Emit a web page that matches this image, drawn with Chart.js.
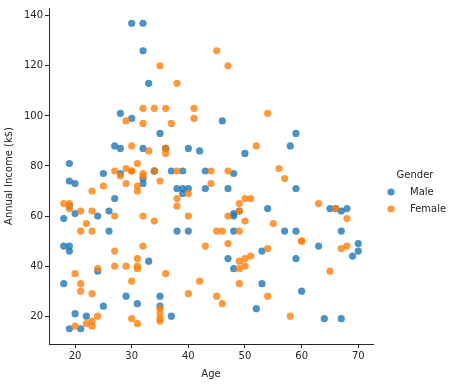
<!DOCTYPE html>
<html>
<head>
<meta charset="utf-8">
<script src="https://cdn.jsdelivr.net/npm/chart.js@4/dist/chart.umd.min.js"></script>
<style>
  html, body { margin: 0; padding: 0; background: #fff; }
  #wrap { width: 453px; height: 390px; }
</style>
</head>
<body>
<div id="wrap"><canvas id="scatterChart" width="453" height="390"></canvas></div>
<script>
// Age vs Annual Income, split by gender
const maleAge = [19,21,64,67,37,22,20,52,35,25,31,29,35,60,53,18,24,48,33,59,47,69,53,70,19,63,18,19,70,59,26,40,57,38,67,48,18,48,24,48,20,67,26,49,54,68,66,65,19,27,39,43,40,59,38,47,39,20,32,19,32,25,28,48,34,43,39,37,34,19,50,42,32,40,28,36,36,58,27,59,35,46,30,28,33,32,32,30];
const maleIncome = [15,15,19,19,20,20,21,23,24,24,25,28,28,30,33,33,38,39,42,43,43,44,46,46,46,48,48,48,49,54,54,54,54,54,54,54,59,60,60,61,61,62,62,62,63,63,63,63,64,67,69,71,71,71,71,71,71,73,73,74,75,77,77,77,78,78,78,78,78,81,85,86,87,87,87,87,87,88,88,93,93,98,99,101,113,126,137,137];

const femaleAge = [20,23,31,22,35,23,30,35,58,24,35,35,46,54,45,40,23,21,49,21,42,30,36,20,65,31,49,24,50,27,29,31,49,31,50,51,27,67,54,43,68,32,47,60,60,45,23,49,46,21,55,22,34,50,68,40,32,47,27,23,49,21,66,19,38,18,19,63,49,51,50,38,40,23,31,25,31,29,44,35,57,28,32,32,34,44,38,47,27,30,30,56,29,31,36,33,36,52,30,37,32,29,41,54,41,36,34,32,38,47,35,45];
const femaleIncome = [16,16,17,17,18,18,19,19,20,20,21,23,25,28,28,29,29,30,33,33,34,34,37,37,38,39,39,39,40,40,40,40,42,43,43,44,46,47,47,48,48,48,49,50,50,54,54,54,54,54,57,57,58,58,59,60,60,60,60,62,62,62,63,63,64,65,65,65,65,67,67,67,69,70,70,72,72,73,73,74,75,76,76,77,78,78,78,78,78,78,78,79,79,81,85,86,87,88,88,97,97,98,99,101,103,103,103,103,113,120,120,126];

const xTicks = [20, 30, 40, 50, 60, 70];
const yTicks = [20, 40, 60, 80, 100, 120, 140];

const legendItems = ['Male', 'Female'];
const legendColors = ['rgba(31,119,180,0.8)', 'rgba(255,127,14,0.8)'];

const FONT = "'DejaVu Sans', sans-serif";
const INK = '#262626';

const toPoints = (xs, ys) => xs.map((x, i) => ({ x: x, y: ys[i] }));

// seaborn-like legend outside the axes, on the right
const genderLegend = {
  id: 'genderLegend',
  afterDraw(chart) {
    const ctx = chart.ctx;
    ctx.save();
    ctx.font = '10px ' + FONT;
    ctx.fillStyle = INK;
    ctx.textBaseline = 'middle';
    ctx.textAlign = 'center';
    ctx.fillText('Gender', 415, 175);
    ctx.textAlign = 'left';
    legendItems.forEach((name, i) => {
      const y = 192 + i * 17;
      ctx.fillStyle = legendColors[i];
      ctx.beginPath();
      ctx.arc(391, y, 3.6, 0, Math.PI * 2);
      ctx.fill();
      ctx.fillStyle = INK;
      ctx.fillText(name, 410, y);
    });
    ctx.restore();
  }
};

const ctx = document.getElementById('scatterChart').getContext('2d');
new Chart(ctx, {
  type: 'scatter',
  data: {
    datasets: [
      {
        label: 'Male',
        data: toPoints(maleAge, maleIncome),
        backgroundColor: legendColors[0],
        borderWidth: 0,
        pointRadius: 3.6,
        order: 1
      },
      {
        label: 'Female',
        data: toPoints(femaleAge, femaleIncome),
        backgroundColor: legendColors[1],
        borderWidth: 0,
        pointRadius: 3.6,
        order: 0
      }
    ]
  },
  options: {
    responsive: false,
    animation: false,
    layout: { padding: { left: 3, top: 6, right: 80, bottom: 10 } },
    plugins: {
      legend: { display: false },
      tooltip: { enabled: false }
    },
    scales: {
      x: {
        type: 'linear',
        min: 15.4,
        max: 72.6,
        afterBuildTicks: axis => { axis.ticks = xTicks.map(v => ({ value: v })); },
        afterFit: axis => { axis.height = 36; },
        grid: { display: true, drawOnChartArea: false, drawTicks: true, tickLength: 4, color: INK },
        border: { display: true, color: INK, width: 1 },
        ticks: { color: INK, font: { family: FONT, size: 10 }, padding: 2, maxRotation: 0 },
        title: { display: true, text: 'Age', color: INK, font: { family: FONT, size: 10 }, padding: { top: 4, bottom: 0 } }
      },
      y: {
        type: 'linear',
        min: 8.9,
        max: 143.1,
        afterBuildTicks: axis => { axis.ticks = yTicks.map(v => ({ value: v })); },
        afterFit: axis => { axis.width = 46; },
        grid: { display: true, drawOnChartArea: false, drawTicks: true, tickLength: 4, color: INK },
        border: { display: true, color: INK, width: 1 },
        ticks: { color: INK, font: { family: FONT, size: 10 }, padding: 2 },
        title: { display: true, text: 'Annual Income (k$)', color: INK, font: { family: FONT, size: 10 }, padding: { top: 0, bottom: 4 } }
      }
    }
  },
  plugins: [genderLegend]
});
</script>
</body>
</html>
